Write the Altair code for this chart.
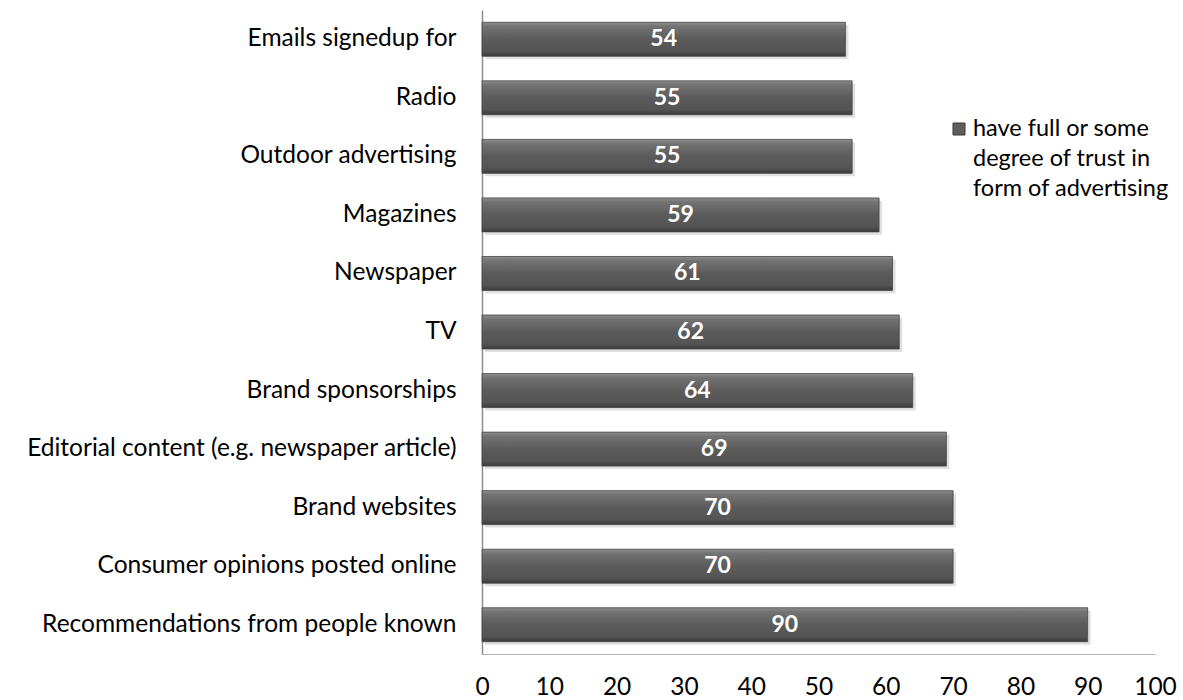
import altair as alt
import pandas as pd

categories = [
    "Emails signedup for",
    "Radio",
    "Outdoor advertising",
    "Magazines",
    "Newspaper",
    "TV",
    "Brand sponsorships",
    "Editorial content (e.g. newspaper article)",
    "Brand websites",
    "Consumer opinions posted online",
    "Recommendations from people known",
]
values = [54, 55, 55, 59, 61, 62, 64, 69, 70, 70, 90]
legend_lines = ["have full or some", "degree of trust in", "form of advertising"]

df = pd.DataFrame({"category": categories, "value": values})
legend_df = pd.DataFrame({"series": [" ".join(legend_lines)]})

FONT = "Lato"
FS = 24.5

gradient = alt.Gradient(
    gradient="linear",
    x1=0, y1=0, x2=0, y2=1,
    stops=[
        alt.GradientStop(offset=0, color="#8e8e8e"),
        alt.GradientStop(offset=0.12, color="#737373"),
        alt.GradientStop(offset=0.5, color="#5b5b5b"),
        alt.GradientStop(offset=0.85, color="#545454"),
        alt.GradientStop(offset=1, color="#3a3a3a"),
    ],
)

y_enc = alt.Y(
    "category:N",
    sort=categories,
    scale=alt.Scale(paddingInner=0.42, paddingOuter=0.21),
    axis=alt.Axis(
        title=None, ticks=False, labelFontSize=FS, labelFont=FONT, labelColor="#000000",
        labelPadding=26, domainColor="#8c8c8c", domainWidth=1.5, labelLimit=480,
        grid=False,
    ),
)
x_enc = alt.X(
    "value:Q",
    scale=alt.Scale(domain=[0, 100]),
    axis=alt.Axis(
        title=None, values=list(range(0, 101, 10)), grid=False, ticks=False,
        labelFontSize=FS, labelFont=FONT, labelColor="#000000", labelPadding=21,
        domainColor="#b0b0b0", labelFlush=False,
    ),
)

shadow = alt.Chart(df).mark_bar(color="#000000", opacity=0.12, xOffset=3, yOffset=3).encode(
    y=y_enc, x=x_enc
)

bars = alt.Chart(df).mark_bar(fill=gradient, stroke="#444444", strokeWidth=0.8).encode(
    y=y_enc,
    x=x_enc,
)

labels = alt.Chart(df).mark_text(
    color="white", fontWeight="bold", fontSize=23, font=FONT, baseline="middle"
).encode(
    y=alt.Y("category:N", sort=categories),
    x=alt.X("mid:Q"),
    text=alt.Text("value:Q"),
).transform_calculate(mid="datum.value / 2")

legend_symbol = alt.Chart(legend_df).mark_rect(
    fill="#5e5e5e", stroke="#3a3a3a", strokeWidth=1
).encode(
    x=alt.value(471), x2=alt.value(483), y=alt.value(113), y2=alt.value(125),
)

legend_text = alt.Chart(legend_df).mark_text(
    align="left", baseline="middle", fontSize=23.5, font=FONT, color="#000000",
    lineHeight=30, text=legend_lines,
).encode(
    x=alt.value(491), y=alt.value(119),
)

chart = (
    alt.layer(shadow, bars, labels, legend_symbol, legend_text)
    .properties(
        width=673, height=644,
        autosize=alt.AutoSizeParams(type="none"),
        padding={"left": 482, "top": 10, "right": 28, "bottom": 46},
    )
    .configure(font=FONT)
    .configure_view(stroke="transparent", strokeWidth=0)
    .configure_axis(grid=False)
)

chart.save("out.html", embed_options={"renderer": "svg", "actions": False})
